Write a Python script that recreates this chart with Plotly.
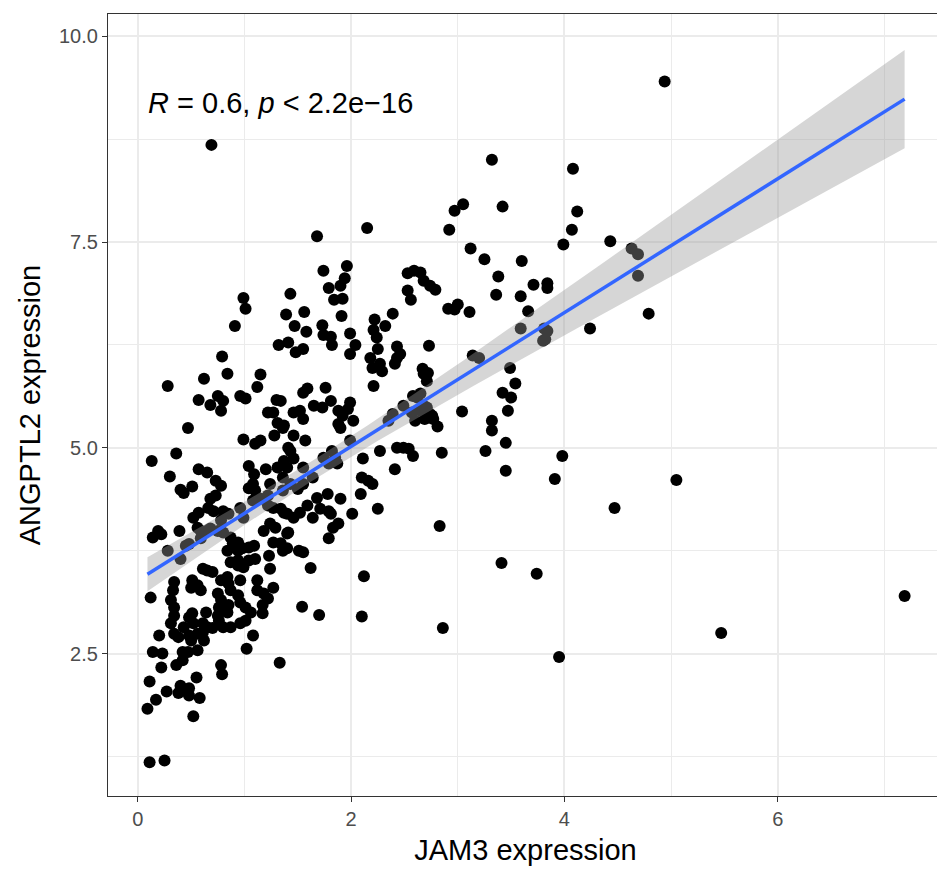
import numpy as np
import plotly.graph_objects as go

# JAM3 expression (x) and ANGPTL2 expression (y)
jam3 = [
    4.94, 0.69, 3.32, 4.08, 4.12, 3.42, 3.05, 2.97, 2.92, 4.07,
    3.99, 4.43, 2.15, 1.68, 3.12, 3.25, 3.38, 3.60, 4.63, 4.69,
    4.69, 4.79, 4.24, 3.71, 3.84, 3.84, 3.36, 3.59, 3.66, 3.11,
    2.91, 3.00, 2.97, 2.65, 2.68, 2.74, 2.79, 3.59, 3.81, 3.84,
    3.82, 2.73, 3.14, 3.20, 3.49, 3.54, 3.42, 3.50, 3.47, 3.04,
    3.32, 3.32, 3.45, 3.26, 2.85, 2.81, 3.45, 3.98, 3.91, 4.47,
    2.83, 3.80, 5.05, 5.47, 7.19, 3.95, 3.74, 3.41, 2.86, 2.12,
    2.10, 1.70, 1.54, 1.33, 1.62, 2.65, 2.69, 2.76, 2.68, 2.65,
    1.74, 1.96, 1.94, 1.90, 1.79, 1.84, 1.92, 1.91, 1.43, 0.99,
    1.01, 0.91, 1.39, 1.56, 1.47, 1.58, 1.73, 1.74, 1.81, 1.82,
    1.99, 2.04, 2.22, 2.21, 2.24, 2.32, 2.39, 2.53, 2.59, 2.53,
    2.56, 2.43, 1.41, 1.55, 1.32,
    1.99, 2.25, 2.18, 2.20, 2.27, 2.29, 2.43, 2.41, 2.46, 2.67,
    2.68, 2.72, 2.71, 2.21, 1.48, 1.59, 1.55, 1.76, 1.34, 1.46,
    1.52, 1.55, 1.65, 1.73, 1.81, 1.88, 1.92, 1.99, 1.97, 2.02,
    1.88, 1.90, 1.36, 1.46, 1.57, 1.99, 2.39, 2.35, 2.49, 2.58,
    2.62, 2.57, 2.60, 2.71, 2.74, 2.77, 2.27, 2.43, 2.49, 2.54,
    2.58, 2.41, 2.11, 1.82, 1.85, 1.87, 1.74, 1.79, 1.43, 1.46,
    1.40, 1.55, 1.64, 2.10, 2.16, 1.55, 1.43,
    1.50, 1.68, 1.78, 1.90, 2.09, 2.20, 2.25, 1.71, 1.79, 1.81,
    1.59, 1.52, 1.64, 1.40, 1.46, 1.34, 2.01, 1.83, 1.88, 1.79,
    1.41, 1.34, 1.40, 1.51, 1.55,
    0.79, 0.28, 0.62, 0.84, 1.15, 1.12, 0.57, 0.75, 0.80, 0.68,
    0.78, 0.96, 1.01, 1.30, 1.22, 1.27, 1.31, 1.37, 0.47, 0.99,
    1.10, 1.15, 1.28, 0.13, 0.36, 0.30, 0.57, 0.65, 0.73, 0.78,
    0.51, 0.40, 1.04, 1.09, 1.20, 1.31, 1.37, 1.41, 1.08, 1.24,
    1.36,
    0.19, 0.22, 0.14, 0.28, 0.39, 0.40, 0.52, 0.57, 0.68, 0.73,
    0.66, 0.71, 0.43, 0.80, 0.85, 0.78, 0.99, 0.96, 1.08, 1.04,
    1.10, 1.15, 1.22, 1.22, 1.27, 1.36, 1.37, 1.24, 1.18, 1.29,
    1.40, 0.56, 0.59, 0.64, 0.68, 0.75, 0.80, 0.45, 0.48, 0.59,
    0.87, 0.89, 0.94, 0.84, 0.94, 0.98, 1.04, 1.09, 1.10, 1.04,
    0.94, 0.87, 0.94, 0.99, 1.23, 1.27, 1.36, 1.24, 0.61, 0.65,
    0.70, 0.51, 0.50, 0.34, 0.33, 0.12, 0.31, 0.34, 0.34, 0.56,
    0.59, 0.78, 0.84, 0.85, 0.96, 1.12, 0.87, 0.94, 0.75, 0.78,
    1.12, 1.18, 1.27, 1.22, 0.96, 1.01, 1.06, 0.85, 0.84, 0.76,
    0.75, 0.64, 0.51, 0.52, 0.48, 0.43, 0.31, 1.17, 1.17, 0.65,
    0.70, 0.80, 0.87, 0.96, 1.01, 0.76,
    0.34, 0.38, 0.20, 0.48, 0.50, 0.56, 0.61, 0.61, 0.62, 0.56,
    0.42, 0.47, 0.42, 0.36, 0.23, 0.14, 0.22, 0.11, 0.78, 0.79,
    0.55, 0.40, 0.43, 0.48, 0.48, 0.38, 0.27, 0.17, 0.09, 0.58,
    0.52, 0.11, 0.25, 1.08, 1.02,
]

angptl2 = [
    9.45, 8.68, 8.50, 8.39, 7.87, 7.93, 7.96, 7.88, 7.65, 7.65,
    7.47, 7.51, 7.67, 7.57, 7.42, 7.29, 7.08, 7.27, 7.42, 7.35,
    7.09, 6.63, 6.45, 6.98, 7.00, 6.94, 6.86, 6.84, 6.66, 6.65,
    6.69, 6.74, 6.68, 7.13, 7.03, 6.97, 6.92, 6.45, 6.45, 6.42,
    6.32, 6.24, 6.12, 6.09, 5.97, 5.78, 5.67, 5.61, 5.45, 5.44,
    5.33, 5.21, 5.06, 4.96, 4.94, 5.26, 4.72, 4.90, 4.62, 4.27,
    4.05, 6.30, 4.61, 2.75, 3.20, 2.46, 3.47, 3.60, 2.81, 3.44,
    2.95, 2.97, 3.07, 2.39, 3.54, 5.45, 5.35, 5.39, 5.51, 5.66,
    7.15, 7.21, 7.06, 6.97, 6.94, 6.80, 6.81, 6.60, 6.87, 6.82,
    6.69, 6.48, 6.62, 6.65, 6.48, 6.41, 6.49, 6.37, 6.35, 6.25,
    6.39, 6.25, 6.56, 6.43, 6.34, 6.48, 6.63, 7.12, 7.15, 6.91,
    6.80, 6.23, 6.28, 6.20, 6.25,
    6.14, 6.20, 6.09, 5.97, 6.02, 5.93, 6.09, 6.02, 6.14, 5.96,
    5.90, 5.91, 5.81, 5.75, 6.16, 5.72, 5.67, 5.73, 5.57, 5.43,
    5.45, 5.35, 5.51, 5.49, 5.57, 5.45, 5.39, 5.55, 5.47, 5.33,
    5.29, 5.24, 5.24, 5.15, 5.09, 5.09, 5.41, 5.33, 5.51, 5.63,
    5.61, 5.43, 5.33, 5.49, 5.41, 5.35, 4.96, 5.00, 5.00, 4.99,
    4.90, 4.74, 4.87, 4.96, 4.88, 4.81, 4.88, 4.81, 4.96, 4.87,
    4.76, 4.76, 4.64, 4.64, 4.60, 4.56, 4.56,
    4.50, 4.39, 4.44, 4.38, 4.44, 4.56, 4.26, 4.26, 4.23, 4.20,
    4.30, 4.21, 4.15, 4.20, 4.15, 4.26, 4.20, 4.03, 4.08, 3.90,
    3.97, 3.84, 3.78, 3.75, 3.73,
    6.11, 5.75, 5.84, 5.90, 5.89, 5.74, 5.58, 5.63, 5.57, 5.52,
    5.45, 5.63, 5.60, 5.58, 5.43, 5.43, 5.30, 5.27, 5.24, 5.10,
    5.05, 5.09, 5.15, 4.84, 4.93, 4.65, 4.74, 4.70, 4.60, 4.54,
    4.53, 4.49, 4.78, 4.68, 4.74, 4.76, 4.84, 5.00, 4.56, 4.56,
    4.64,
    3.99, 3.95, 3.91, 3.75, 3.99, 3.65, 4.15, 4.21, 4.38, 4.42,
    4.27, 4.23, 4.45, 4.23, 4.20, 4.12, 4.15, 4.27, 4.36, 4.51,
    4.48, 4.38, 4.42, 4.30, 4.27, 4.48, 4.21, 4.08, 3.99, 4.03,
    3.96, 4.03, 3.99, 3.99, 4.02, 3.99, 3.97, 3.81, 3.83, 3.90,
    3.91, 3.84, 3.85, 3.75, 3.75, 3.78, 3.79, 3.81, 3.65, 3.63,
    3.63, 3.61, 3.57, 3.55, 3.69, 3.85, 3.75, 3.53, 3.53, 3.51,
    3.49, 3.39, 3.30, 3.37, 3.27, 3.18, 3.15, 3.06, 2.96, 3.33,
    3.27, 3.39, 3.43, 3.35, 3.39, 3.39, 3.27, 3.21, 3.23, 3.15,
    3.27, 3.23, 3.30, 3.17, 3.12, 3.06, 3.00, 3.09, 3.00, 3.06,
    2.96, 3.00, 2.99, 2.87, 2.94, 2.82, 2.87, 3.09, 2.99, 2.82,
    2.81, 2.82, 2.82, 2.87, 2.90, 2.90,
    2.74, 2.70, 2.72, 2.72, 2.66, 2.74, 2.76, 2.87, 2.66, 2.54,
    2.52, 2.52, 2.42, 2.36, 2.50, 2.52, 2.33, 2.16, 2.36, 2.25,
    2.21, 2.11, 2.05, 2.08, 1.99, 2.02, 2.04, 1.94, 1.83, 1.96,
    1.74, 1.18, 1.20, 2.72, 2.56,
]

x_ticks = [0, 2, 4, 6]
y_ticks = [2.5, 5.0, 7.5, 10.0]
annotation_text = "<i>R</i> = 0.6, <i>p</i> &lt; 2.2e\u221216"

x = np.array(jam3)
y = np.array(angptl2)
n = len(x)

# linear fit with 95% confidence band (as geom_smooth(method = "lm"))
slope, intercept = np.polyfit(x, y, 1)
xs = np.linspace(x.min(), x.max(), 80)
yhat = intercept + slope * xs
resid = y - (intercept + slope * x)
s = np.sqrt(np.sum(resid ** 2) / (n - 2))
sxx = np.sum((x - x.mean()) ** 2)
se = s * np.sqrt(1.0 / n + (xs - x.mean()) ** 2 / sxx)
tq = 1.967
upper = yhat + tq * se
lower = yhat - tq * se

fig = go.Figure()
fig.add_trace(go.Scatter(
    x=x, y=y, mode="markers",
    marker=dict(color="black", size=12, line=dict(width=0)),
    showlegend=False, hoverinfo="skip"))
fig.add_trace(go.Scatter(
    x=xs, y=upper, mode="lines", line=dict(width=0),
    showlegend=False, hoverinfo="skip"))
fig.add_trace(go.Scatter(
    x=xs, y=lower, mode="lines", line=dict(width=0),
    fill="tonexty", fillcolor="rgba(153,153,153,0.4)",
    showlegend=False, hoverinfo="skip"))
fig.add_trace(go.Scatter(
    x=xs, y=yhat, mode="lines", line=dict(color="#3366FF", width=3.5),
    showlegend=False, hoverinfo="skip"))

font_family = "Liberation Sans, Arial, sans-serif"
axis_common = dict(
    showgrid=True, gridcolor="#EBEBEB", gridwidth=1.8,
    zeroline=False, showline=True, linecolor="#333333", linewidth=1.2,
    mirror=True, ticks="outside", ticklen=5, tickwidth=1.2,
    tickcolor="#333333",
    tickfont=dict(size=20, color="#4D4D4D", family=font_family),
)

fig.update_layout(
    width=937, height=861,
    margin=dict(l=100, r=2, t=6, b=73),
    paper_bgcolor="white", plot_bgcolor="white",
    font=dict(family=font_family),
    xaxis=dict(
        range=[-0.28, 7.55], tickvals=x_ticks,
        minor=dict(dtick=1, tick0=0, showgrid=True, gridcolor="#EBEBEB", gridwidth=0.9),
        title=dict(text="JAM3 expression", font=dict(size=29, color="black"), standoff=10),
        **axis_common),
    yaxis=dict(
        range=[0.77, 10.27], tickvals=y_ticks, tickformat=".1f",
        minor=dict(dtick=1.25, tick0=0, showgrid=True, gridcolor="#EBEBEB", gridwidth=0.9),
        title=dict(text="ANGPTL2 expression", font=dict(size=29, color="black"), standoff=9),
        **axis_common),
    annotations=[dict(
        x=0.08, y=9.19, xref="x", yref="y", text=annotation_text,
        showarrow=False, xanchor="left", yanchor="middle",
        font=dict(size=29, color="black", family=font_family))],
)

fig.write_html("out.html")
